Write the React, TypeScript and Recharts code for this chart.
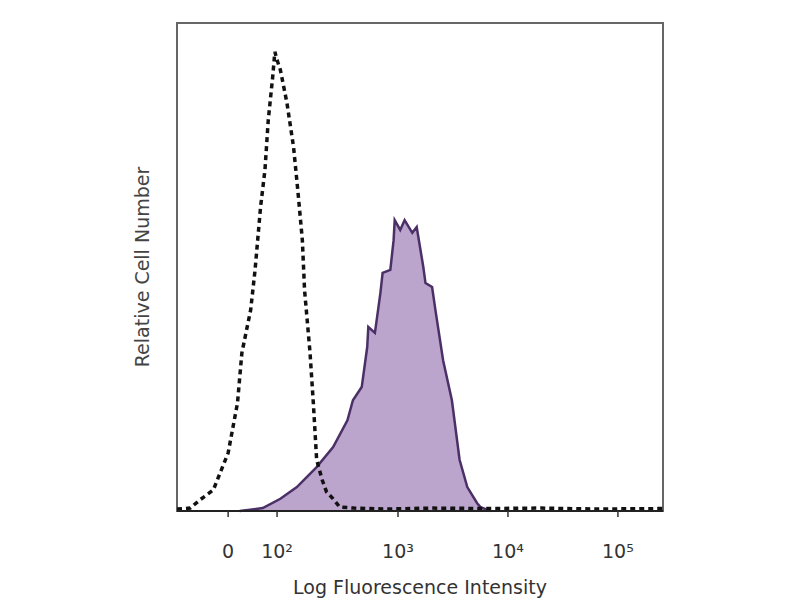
import { Area, ComposedChart, Line, ReferenceArea, XAxis, YAxis } from "recharts"

// x is in display units of the biexponential axis: 3 = 10^3, 4 = 10^4 ...
const X_MIN = 0.99
const X_MAX = 5.41

const TICK_VALUES = [1.455, 1.9, 3, 4, 5]
const TICK_LABELS = ["0", "10²", "10³", "10⁴", "10⁵"]

// isotype control (dashed outline)
const CONTROL_X = [
  0.99, 1.11, 1.2, 1.32, 1.455, 1.54, 1.58, 1.66, 1.7, 1.75, 1.79, 1.82, 1.86,
  1.88, 1.9, 1.93, 1.99, 2.05, 2.09, 2.13, 2.15, 2.2, 2.23, 2.26, 2.31, 2.35,
  2.41, 2.47, 2.6, 2.9, 3.3, 3.8, 4.3, 4.8, 5.41,
]
const CONTROL_Y = [
  0.4, 0.6, 2.3, 4.3, 11.9, 22.1, 32.4, 41.2, 49.4, 62.3, 69.9, 80.1, 88.9,
  94.1, 92.4, 90.4, 83.6, 74.6, 65.4, 55.5, 45.3, 32.4, 22.1, 10.5, 6.4, 3.9,
  2.5, 0.8, 0.6, 0.4, 0.6, 0.5, 0.6, 0.4, 0.5,
]

// stained sample (filled purple)
const STAINED_X = [
  1.56, 1.77, 1.93, 2.08, 2.26, 2.41, 2.54, 2.59, 2.67, 2.72, 2.73, 2.79, 2.84,
  2.86, 2.93, 2.96, 2.97, 3.02, 3.06, 3.13, 3.17, 3.2, 3.23, 3.25, 3.31, 3.34,
  3.41, 3.49, 3.56, 3.63, 3.72, 3.75, 3.84,
]
const STAINED_Y = [
  0, 0.6, 2.5, 4.9, 9.0, 13.1, 18.6, 22.7, 25.4, 33.6, 37.7, 36.5, 44.7, 48.8,
  49.4, 55.5, 59.6, 57.6, 59.6, 57.0, 58.2, 54.1, 50.0, 46.7, 45.9, 41.2, 30.9,
  22.7, 10.5, 4.9, 1.6, 0.8, 0,
]

const control = CONTROL_X.map((x, i) => ({ x, y: CONTROL_Y[i] }))
const stained = STAINED_X.map((x, i) => ({ x, y: STAINED_Y[i] }))

const FONT = "'DejaVu Sans', Verdana, sans-serif"

function XTick(props: any) {
  const { x, y, payload } = props
  const label = TICK_LABELS[TICK_VALUES.indexOf(payload.value)] ?? ""
  return (
    <text
      x={x}
      y={y + 39}
      textAnchor="middle"
      fontFamily={FONT}
      fontSize={19}
      fill="#333"
    >
      {label}
    </text>
  )
}

function YTitle(props: any) {
  const vb = props.viewBox ?? { x: 0, y: 0, width: 0, height: 0 }
  const cx = vb.x + vb.width - 35
  const cy = vb.y + vb.height / 2
  return (
    <text
      x={cx}
      y={cy}
      transform={`rotate(-90 ${cx} ${cy})`}
      textAnchor="middle"
      dominantBaseline="central"
      fontFamily={FONT}
      fontSize={19}
      fill="#444"
    >
      Relative Cell Number
    </text>
  )
}

export default function App() {
  return (
    <div
      style={{
        position: "absolute",
        left: 0,
        top: 0,
        width: 800,
        height: 600,
        background: "#fff",
      }}
    >
      <ComposedChart
        width={800}
        height={600}
        margin={{ top: 23, right: 137, left: 0, bottom: 0 }}
      >
        <XAxis
          type="number"
          dataKey="x"
          domain={[X_MIN, X_MAX]}
          ticks={TICK_VALUES}
          interval={0}
          allowDataOverflow
          height={89}
          tick={<XTick />}
          tickSize={6}
          tickLine={{ stroke: "#333", strokeWidth: 1.5 }}
          axisLine={{ stroke: "#222", strokeWidth: 2 }}
          label={{
            value: "Log Fluorescence Intensity",
            position: "insideBottom",
            offset: 6,
            fontFamily: FONT,
            fontSize: 19,
            fill: "#333",
          }}
        />
        <YAxis
          type="number"
          domain={[0, 100]}
          width={177}
          tick={false}
          tickLine={false}
          axisLine={false}
          label={{ content: <YTitle /> }}
        />
        <ReferenceArea
          x1={X_MIN}
          x2={X_MAX}
          y1={0}
          y2={100}
          fill="none"
          stroke="#666"
          strokeWidth={2}
          ifOverflow="visible"
        />
        <Area
          data={stained}
          dataKey="y"
          type="linear"
          fill="#bca5cd"
          fillOpacity={1}
          stroke="#4a3066"
          strokeWidth={2.5}
          dot={false}
          activeDot={false}
          isAnimationActive={false}
        />
        <Line
          data={control}
          dataKey="y"
          type="linear"
          stroke="#111"
          strokeWidth={3.5}
          strokeDasharray="5 4"
          dot={false}
          activeDot={false}
          isAnimationActive={false}
        />
      </ComposedChart>
    </div>
  )
}
